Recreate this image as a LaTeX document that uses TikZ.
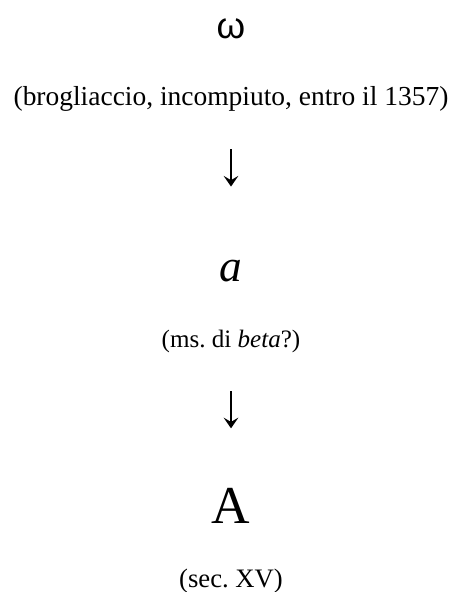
\documentclass[tikz,border=0pt]{standalone}
\usepackage{fontspec}
\setmainfont{Liberation Serif}
\newfontfamily\omegafont{Liberation Sans}
\usetikzlibrary{arrows.meta}
\frenchspacing
\begin{document}
\begin{tikzpicture}[x=0.75pt,y=-0.75pt,
  txt/.style={inner sep=0pt, outer sep=0pt, anchor=base},
  linetext/.style={txt, text depth=0pt},
  bigletter/.style={txt, text height=0pt},
  link/.style={-{Stealth[length=8pt,width=11pt,inset=3.2pt]}, line width=1.1pt,
    shorten <=33pt, shorten >=70.5pt}]
\useasboundingbox (0,0) rectangle (454,592);
\node[txt, font=\omegafont\fontsize{27.5}{30}\selectfont] (omega) at (231,39) {ω};
\node[linetext, font=\fontsize{20.6}{24}\selectfont] (l1) at (231,105) {(brogliaccio, incompiuto, entro il 1357)};
\node[bigletter, font=\fontsize{34}{40}\selectfont\itshape] (a) at (231,281) {a};
\node[linetext, font=\fontsize{18.8}{22}\selectfont] (l2) at (231,347) {(ms. di \textit{beta}?)};
\node[bigletter, font=\fontsize{40}{46}\selectfont] (A) at (231,523) {A};
\node[linetext, font=\fontsize{20}{24}\selectfont] (l3) at (231,587) {(sec. XV)};
\draw[link] (l1) -- (a);
\draw[link] (l2) -- (A);
\end{tikzpicture}
\end{document}
